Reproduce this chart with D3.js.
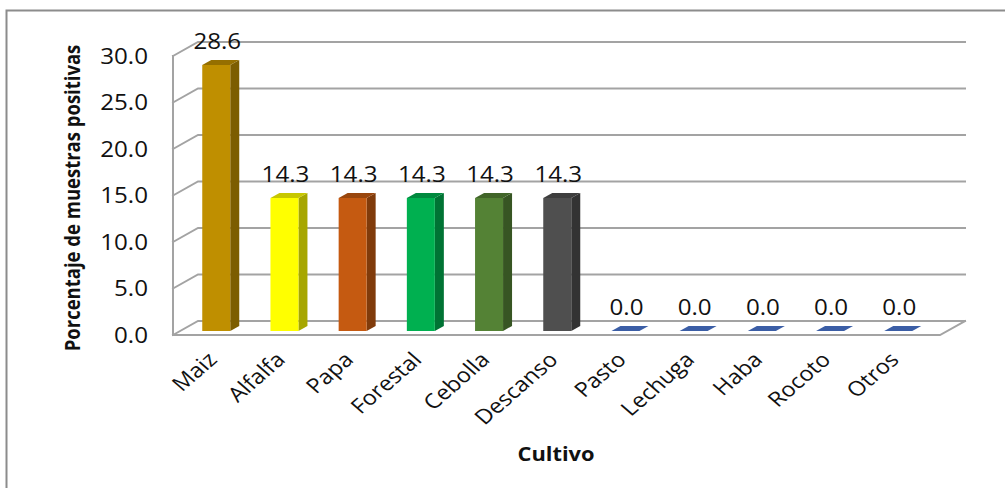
<!DOCTYPE html>
<html>
<head>
<meta charset="utf-8">
<script src="https://cdn.jsdelivr.net/npm/d3@7"></script>
<style>
  html, body { margin: 0; padding: 0; background: #fff; }
  svg { display: block; }
  text { font-family: "Open Sans", "Noto Sans", sans-serif; fill: #111; }
</style>
</head>
<body>
<svg id="chart" width="1005" height="488"></svg>
<script>
// Crops and share of positive samples (%)
const categories = ["Maiz", "Alfalfa", "Papa", "Forestal", "Cebolla", "Descanso",
                    "Pasto", "Lechuga", "Haba", "Rocoto", "Otros"];
const values = [28.6, 14.3, 14.3, 14.3, 14.3, 14.3, 0.0, 0.0, 0.0, 0.0, 0.0];
const barColors = ["#bf8f00", "#ffff00", "#c55a11", "#00b050", "#548235", "#4f4f4f",
                   "#3b5ea6", "#3b5ea6", "#3b5ea6", "#3b5ea6", "#3b5ea6"];
const yTicks = [0, 5, 10, 15, 20, 25, 30];
const yTitle = "Porcentaje de muestras positivas";
const xTitle = "Cultivo";

const svg = d3.select("#chart");
const SX = 1.15;            // horizontal stretch of the lettering
const DX = 25, DY = -14;    // depth offset of the 3D box (front plane -> back wall)
const F0 = 0.29, F1 = 0.65; // depth range occupied by the columns
const HALF = 14;            // half width of a column front face

// Front-plane scales
const x = d3.scalePoint().domain(categories).range([209, 891]);
const y = d3.scaleLinear().domain([0, 30]).range([335, 56]);
const floorLeft = 173, floorRight = 940;

const P = (px, v, f) => [px + DX * f, y(v) + DY * f];
const poly = pts => "M" + pts.map(p => p.join(",")).join("L") + "Z";

// Outer frame
svg.append("rect")
  .attr("x", 6.5).attr("y", 10.5).attr("width", 1010).attr("height", 500)
  .attr("fill", "none").attr("stroke", "#8c8c8c").attr("stroke-width", 2);

const grid = svg.append("g")
  .attr("fill", "none").attr("stroke", "#a3a3a3").attr("stroke-width", 2)
  .attr("stroke-linecap", "square");

// Back-wall gridlines and side-wall diagonals
yTicks.forEach(t => {
  const a = P(floorLeft, t, 0), b = P(floorLeft, t, 1), c = P(floorRight, t, 1);
  grid.append("path").attr("d", `M${a}L${b}L${c}`);
});
// Side wall front edge
grid.append("line")
  .attr("x1", floorLeft).attr("x2", floorLeft)
  .attr("y1", y(0)).attr("y2", y(30));
// Floor front and right edges
{
  const a = P(floorLeft, 0, 0), b = P(floorRight, 0, 0), c = P(floorRight, 0, 1);
  grid.append("path").attr("d", `M${a}L${b}L${c}`);
}

// Y tick labels
svg.append("g").selectAll("text").data(yTicks).join("text")
  .attr("transform", d => `translate(148,${y(d) + 7.5}) scale(${SX},1)`)
  .attr("text-anchor", "end")
  .attr("font-size", 21)
  .text(d => d.toFixed(1));

// Columns
const bars = svg.append("g").selectAll("g").data(categories).join("g");
bars.each(function (c, i) {
  const g = d3.select(this);
  const v = values[i];
  const base = d3.color(barColors[i]);
  const cx = x(c);
  const L = cx - HALF, R = cx + HALF;
  if (v > 0) {
    // side face
    g.append("path")
      .attr("d", poly([P(R, 0, F0), P(R, 0, F1), P(R, v, F1), P(R, v, F0)]))
      .attr("fill", base.darker(1.2));
    // front face
    g.append("path")
      .attr("d", poly([P(L, 0, F0), P(R, 0, F0), P(R, v, F0), P(L, v, F0)]))
      .attr("fill", base);
  }
  // top face
  g.append("path")
    .attr("d", poly([P(L, v, F0), P(R, v, F0), P(R, v, F1), P(L, v, F1)]))
    .attr("fill", v > 0 ? base.darker(0.7) : base);
});

// Value labels
svg.append("g").selectAll("text").data(categories).join("text")
  .attr("transform", (c, i) => {
    const p = P(x(c) + 1, values[i], F1);
    return `translate(${p[0] - DX * (F1 - F0)},${p[1] - 11}) scale(${SX},1)`;
  })
  .attr("text-anchor", "middle")
  .attr("font-size", 21)
  .text((c, i) => values[i].toFixed(1));

// Category labels
svg.append("g").selectAll("text").data(categories).join("text")
  .attr("transform", c => {
    const p = P(x(c), 0, F0);
    return `translate(${p[0] + 2},361) scale(${SX},1) rotate(-45)`;
  })
  .attr("text-anchor", "end")
  .attr("font-size", 20.5)
  .text(c => c);

// Axis titles
svg.append("text")
  .attr("transform", `translate(80,198) scale(${SX},1) rotate(-90)`)
  .attr("text-anchor", "middle")
  .attr("font-size", 18.5)
  .attr("font-weight", 700)
  .text(yTitle);

svg.append("text")
  .attr("transform", `translate(556,461) scale(${SX},1)`)
  .attr("text-anchor", "middle")
  .attr("font-size", 19)
  .attr("font-weight", 700)
  .text(xTitle);
</script>
</body>
</html>
